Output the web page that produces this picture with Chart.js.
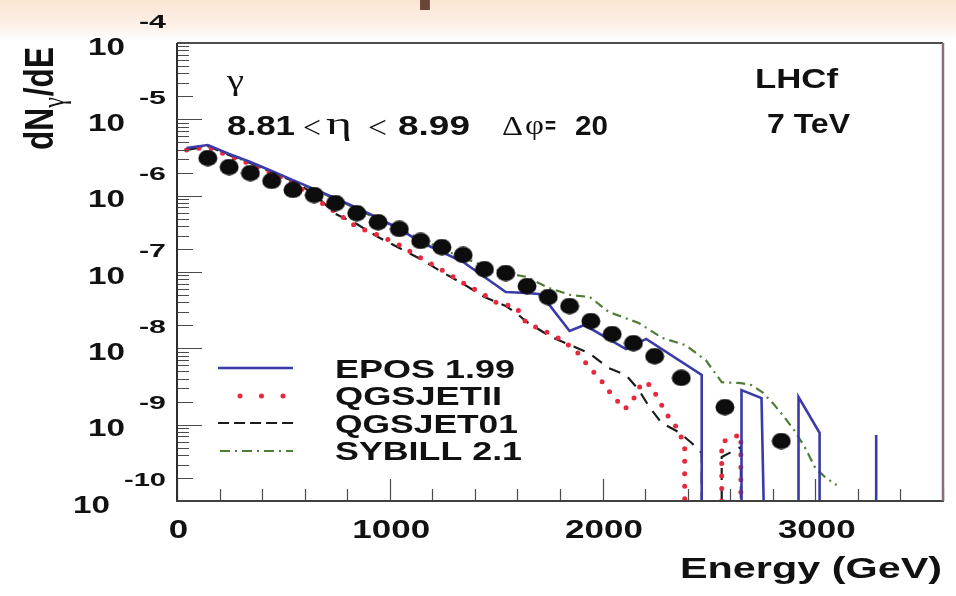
<!DOCTYPE html>
<html>
<head>
<meta charset="utf-8">
<title>LHCf photon spectrum</title>
<script src="https://cdn.jsdelivr.net/npm/chart.js@4.4.1/dist/chart.umd.min.js"></script>
<style>
  html, body { margin: 0; padding: 0; background: #fff; overflow: hidden; }
  canvas { display: block; }
</style>
</head>
<body>
<canvas id="c" width="956" height="596"></canvas>
<script>
// Axis ranges
const X_MIN = 0, X_MAX = 3600;
const Y_MIN = 1e-10, Y_MAX = 1e-4;
const xTickLabels = [0, 1000, 2000, 3000];
const yDecades = [-4, -5, -6, -7, -8, -9, -10];

// LHCf measured photon spectrum, 8.81 < eta < 8.99
const dataE   = [145, 245, 345, 445, 545, 645, 745, 845, 945, 1045, 1145, 1245, 1345, 1445, 1545, 1645, 1745, 1845, 1945, 2045, 2145, 2245, 2370, 2575, 2840];
const dataVal = [3.11e-6, 2.37e-6, 1.98e-6, 1.56e-6, 1.19e-6, 1.02e-6, 8.0e-7, 5.9e-7, 4.5e-7, 3.66e-7, 2.55e-7, 2.12e-7, 1.67e-7, 1.09e-7, 9.7e-8, 6.55e-8, 4.7e-8, 3.58e-8, 2.28e-8, 1.54e-8, 1.17e-8, 7.9e-9, 4.1e-9, 1.7e-9, 6.1e-10];

// Model predictions. 0 = empty bin (line runs down to the axis), null = pen lifted.
const eposE   = [45, 145, 245, 345, 445, 545, 645, 745, 845, 945, 1045, 1145, 1245, 1345, 1445, 1545, 1645, 1700, 1750, 1845, 1915, 2110, 2205, 2466, 2466, 2466, 2653, 2653, 2747, 2757, 2757, 2921, 2921, 3020, 3020, 3020, 3286, 3286, 3286];
const eposVal = [4.21e-6, 4.61e-6, 3.51e-6, 2.76e-6, 2.10e-6, 1.60e-6, 1.22e-6, 9.3e-7, 6.9e-7, 5.1e-7, 3.66e-7, 2.47e-7, 1.83e-7, 1.35e-7, 8.6e-8, 5.47e-8, 5.3e-8, 5.15e-8, 3.7e-8, 1.69e-8, 2.02e-8, 9.8e-9, 1.33e-8, 4.47e-9, 0, null, 0, 2.84e-9, 2.23e-9, 0, null, 0, 2.3e-9, 7.8e-10, 0, null, 0, 7.3e-10, 0];

const qgsIIE   = [45, 145, 245, 345, 445, 545, 645, 745, 845, 945, 1045, 1145, 1245, 1345, 1445, 1505, 1594, 1641, 1716, 1810, 1880, 1936, 1992, 2044, 2105, 2152, 2185, 2227, 2264, 2311, 2358, 2386, 2386, 2386, 2560, 2560, 2650, 2650];
const qgsIIVal = [3.96e-6, 4.34e-6, 3.31e-6, 2.60e-6, 1.98e-6, 1.47e-6, 9.3e-7, 6.1e-7, 3.9e-7, 3.05e-7, 2.26e-7, 1.53e-7, 1.06e-7, 7.2e-8, 5.0e-8, 3.92e-8, 3.48e-8, 2.15e-8, 1.74e-8, 1.29e-8, 8.95e-9, 5.7e-9, 3.85e-9, 2.45e-9, 1.6e-9, 2.3e-9, 3.6e-9, 3.3e-9, 2.1e-9, 1.26e-9, 8.5e-10, 5.1e-10, 0, null, 0, 5.9e-10, 7.5e-10, 0];

const qgs01E   = [45, 145, 245, 345, 445, 545, 645, 745, 845, 945, 1045, 1145, 1245, 1345, 1445, 1545, 1594, 1645, 1758, 1850, 1935, 2030, 2110, 2171, 2217, 2278, 2358, 2419, 2466, 2466, 2466, 2560, 2560, 2650, 2650];
const qgs01Val = [3.96e-6, 4.47e-6, 3.41e-6, 2.68e-6, 2.04e-6, 1.56e-6, 1.05e-6, 5.75e-7, 4.25e-7, 2.87e-7, 2.06e-7, 1.48e-7, 1.0e-7, 7.0e-8, 4.7e-8, 3.58e-8, 2.9e-8, 2.21e-8, 1.41e-8, 1.1e-8, 8.7e-9, 5.5e-9, 4.47e-9, 2.84e-9, 1.75e-9, 1.05e-9, 8.0e-10, 5.75e-10, 4.25e-10, 0, null, 0, 3.77e-10, 5.1e-10, 0];

const sibE   = [45, 145, 245, 345, 445, 545, 645, 745, 845, 945, 1045, 1145, 1245, 1345, 1445, 1545, 1645, 1745, 1850, 1940, 2030, 2170, 2280, 2390, 2485, 2560, 2650, 2700, 2750, 2800, 2850, 2900, 2950, 3000, 3050, 3100];
const sibVal = [4.09e-6, 4.47e-6, 3.41e-6, 2.68e-6, 2.04e-6, 1.56e-6, 1.19e-6, 9.0e-7, 6.7e-7, 4.9e-7, 3.66e-7, 2.7e-7, 2.0e-7, 1.53e-7, 1.2e-7, 9.7e-8, 8.6e-8, 6.2e-8, 5.0e-8, 4.7e-8, 2.99e-8, 2.15e-8, 1.37e-8, 1.1e-8, 7.0e-9, 3.6e-9, 3.5e-9, 3.3e-9, 2.68e-9, 1.92e-9, 1.3e-9, 8.5e-10, 5.1e-10, 2.7e-10, 2.0e-10, 1.62e-10];

// Build {x, y} points; empty bins sit on the bottom of the log axis
function points(E, V) {
  return E.map((e, i) => ({ x: e, y: V[i] === 0 ? Y_MIN : V[i] }));
}

// Slightly wide filled marker for the measured points
function markerImage() {
  const c = document.createElement('canvas');
  c.width = 20; c.height = 17;
  const g = c.getContext('2d');
  g.fillStyle = '#0d0d0d';
  g.beginPath();
  g.ellipse(10, 8.5, 9.5, 8.2, 0, 0, Math.PI * 2);
  g.fill();
  return c;
}

const SANS = '"Liberation Sans", Arial, Helvetica, sans-serif';
const SERIF = '"Liberation Serif", "DejaVu Serif", serif';

// Text stretched horizontally to a given width
function drawText(ctx, s, x, y, font, align, width, color) {
  ctx.save();
  ctx.font = font;
  const w = ctx.measureText(s).width;
  const sx = width ? width / w : 1;
  ctx.translate(x, y);
  ctx.scale(sx, 1);
  ctx.textAlign = align || 'left';
  ctx.textBaseline = 'alphabetic';
  ctx.fillStyle = color || '#111';
  ctx.fillText(s, 0, 0);
  ctx.restore();
}

const decor = {
  id: 'decor',
  beforeDraw(chart) {
    const ctx = chart.ctx;
    ctx.save();
    ctx.fillStyle = '#ffffff';
    ctx.fillRect(0, 0, chart.width, chart.height);
    const g = ctx.createLinearGradient(0, 0, 0, 40);
    g.addColorStop(0, '#fbe5d3');
    g.addColorStop(0.7, '#fdf2ea');
    g.addColorStop(1, '#ffffff');
    ctx.fillStyle = g;
    ctx.fillRect(0, 0, chart.width, 40);
    // descender of the slide heading, cut by the page edge
    ctx.fillStyle = '#6b4436';
    ctx.font = 'bold 72px ' + SANS;
    ctx.textBaseline = 'alphabetic';
    ctx.fillText('p', 415, -5);
    ctx.restore();
  },
  afterDraw(chart) {
    const ctx = chart.ctx;
    const a = chart.chartArea;
    const xs = chart.scales.x, ys = chart.scales.y;
    ctx.save();

    // ticks
    ctx.strokeStyle = '#4a4a4a';
    ctx.lineWidth = 1.2;
    ctx.beginPath();
    for (let v = X_MIN; v <= X_MAX; v += 200) {
      const px = Math.round(xs.getPixelForValue(v)) + 0.5;
      const len = v % 1000 === 0 ? 22 : 12;
      ctx.moveTo(px, a.bottom);
      ctx.lineTo(px, a.bottom - len);
    }
    for (let n = -10; n <= -4; n++) {
      const py = Math.round(ys.getPixelForValue(Math.pow(10, n))) + 0.5;
      ctx.moveTo(a.left, py);
      ctx.lineTo(a.left + 25, py);
      if (n < -4) {
        for (let k = 2; k <= 9; k++) {
          const pm = Math.round(ys.getPixelForValue(k * Math.pow(10, n))) + 0.5;
          ctx.moveTo(a.left, pm);
          ctx.lineTo(a.left + (k === 2 ? 16 : 12), pm);
        }
      }
    }
    ctx.stroke();

    // frame
    ctx.lineWidth = 2;
    ctx.strokeStyle = '#4d4d4d';
    ctx.beginPath(); ctx.moveTo(a.left, a.top); ctx.lineTo(a.right, a.top); ctx.stroke();
    ctx.strokeStyle = '#2e2e2e';
    ctx.beginPath(); ctx.moveTo(a.left, a.top); ctx.lineTo(a.left, a.bottom); ctx.stroke();
    ctx.strokeStyle = '#404040';
    ctx.beginPath(); ctx.moveTo(a.left - 1, a.bottom); ctx.lineTo(a.right + 1, a.bottom); ctx.stroke();
    ctx.strokeStyle = '#8c6c7e';
    ctx.lineWidth = 2.5;
    ctx.beginPath(); ctx.moveTo(a.right, a.top); ctx.lineTo(a.right, a.bottom); ctx.stroke();

    // y tick labels: 10 with exponent
    yDecades.forEach(n => {
      const py = ys.getPixelForValue(Math.pow(10, n));
      const exp = '-' + Math.abs(n);
      const expW = Math.abs(n) >= 10 ? 42 : 27;
      drawText(ctx, exp, 166, py - 15.5, 'bold 18px ' + SANS, 'right', expW);
      drawText(ctx, '10', 166 - expW - 14, py + 11.5, 'bold 24px ' + SANS, 'right', 37);
    });

    // x tick labels
    xTickLabels.forEach(v => {
      const px = xs.getPixelForValue(v);
      const s = String(v);
      ctx.font = 'bold 25px ' + SANS;
      const w = ctx.measureText(s).width * 1.4;
      drawText(ctx, s, px + 1.5, 538, 'bold 25px ' + SANS, 'center', w);
    });

    // axis titles
    drawText(ctx, 'Energy (GeV)', 942, 578, 'bold 29px ' + SANS, 'right', 262);

    ctx.save();
    ctx.translate(53, 150);
    ctx.rotate(-Math.PI / 2);
    const big = 'bold 29px ' + SANS, sub = '22px ' + SERIF;
    ctx.font = big; const w1 = ctx.measureText('dN').width;
    ctx.font = sub; const w2 = ctx.measureText('γ').width;
    ctx.font = big; const w3 = ctx.measureText('/dE').width;
    const sx = 103 / (w1 + w2 + 1 + w3);
    ctx.scale(sx, 1.42);
    ctx.fillStyle = '#111';
    ctx.textBaseline = 'alphabetic';
    ctx.font = big; ctx.fillText('dN', 0, 0);
    ctx.font = sub; ctx.fillText('γ', w1, 8);
    ctx.font = big; ctx.fillText('/dE', w1 + w2 + 1, 0);
    ctx.restore();

    // labels inside the frame
    drawText(ctx, 'γ', 227, 90, '30px ' + SERIF, 'left', 17);
    drawText(ctx, '8.81', 227, 135, 'bold 27px ' + SANS, 'left', 68);
    drawText(ctx, '<', 303, 138, '32px ' + SERIF, 'left', 18);
    drawText(ctx, 'η', 326, 134, '32px ' + SERIF, 'left', 26);
    drawText(ctx, '<', 368, 138, '32px ' + SERIF, 'left', 19);
    drawText(ctx, '8.99', 398, 135, 'bold 27px ' + SANS, 'left', 72);
    drawText(ctx, 'Δ', 502, 135, '28px ' + SERIF, 'left', 21);
    drawText(ctx, 'φ', 525, 134, '28px ' + SERIF, 'left', 19);
    drawText(ctx, '=', 545, 133, 'bold 22px ' + SANS, 'left', 11);
    drawText(ctx, '20', 575, 135, 'bold 27px ' + SANS, 'left', 33);
    drawText(ctx, 'LHCf', 755, 88, 'bold 27px ' + SANS, 'left', 83);
    drawText(ctx, '7 TeV', 767, 133, 'bold 27px ' + SANS, 'left', 83);

    // legend
    const rows = [
      { ds: 1, y: 368, x0: 218, x1: 293, dash: [], w: 2.6, tb: 378, tw: 180 },
      { ds: 2, y: 396, x0: 240, x1: 284, dash: [0, 21.5], w: 5, tb: 405, tw: 167 },
      { ds: 3, y: 423, x0: 218, x1: 293, dash: [11, 5], w: 2.2, tb: 433, tw: 183 },
      { ds: 4, y: 451, x0: 220, x1: 293, dash: [10, 5, 2, 5], w: 2.2, tb: 460, tw: 187 }
    ];
    rows.forEach(r => {
      const d = chart.data.datasets[r.ds];
      ctx.save();
      ctx.strokeStyle = d.borderColor;
      ctx.lineWidth = r.w;
      ctx.lineCap = d.borderCapStyle || 'butt';
      ctx.setLineDash(r.dash);
      ctx.beginPath();
      ctx.moveTo(r.x0, r.y);
      ctx.lineTo(r.x1, r.y);
      ctx.stroke();
      ctx.restore();
      drawText(ctx, d.label, 335, r.tb, 'bold 25px ' + SANS, 'left', r.tw);
    });

    ctx.restore();
  }
};

new Chart(document.getElementById('c'), {
  type: 'line',
  data: {
    datasets: [
      {
        label: 'LHCf data',
        data: points(dataE, dataVal),
        showLine: false,
        pointStyle: markerImage(),
        pointRadius: 9,
        order: 0
      },
      {
        label: 'EPOS 1.99',
        data: points(eposE, eposVal),
        borderColor: '#3a3aa8',
        borderWidth: 2.6,
        pointRadius: 0,
        order: 1
      },
      {
        label: 'QGSJETII',
        data: points(qgsIIE, qgsIIVal),
        borderColor: '#e8283c',
        borderWidth: 5,
        borderDash: [0, 12.5],
        borderCapStyle: 'round',
        pointRadius: 0,
        order: 2
      },
      {
        label: 'QGSJET01',
        data: points(qgs01E, qgs01Val),
        borderColor: '#1c1c1c',
        borderWidth: 2.2,
        borderDash: [12, 9],
        pointRadius: 0,
        order: 3
      },
      {
        label: 'SYBILL 2.1',
        data: points(sibE, sibVal),
        borderColor: '#4e7d35',
        borderWidth: 2.2,
        borderDash: [9, 5, 2, 5],
        pointRadius: 0,
        order: 4
      }
    ]
  },
  options: {
    responsive: false,
    animation: false,
    devicePixelRatio: 1,
    spanGaps: false,
    layout: { padding: { left: 177, top: 43, right: 13, bottom: 95 } },
    elements: { line: { tension: 0, fill: false } },
    scales: {
      x: { type: 'linear', min: X_MIN, max: X_MAX, display: false },
      y: { type: 'logarithmic', min: Y_MIN, max: Y_MAX, display: false }
    },
    plugins: {
      legend: { display: false },
      tooltip: { enabled: false }
    }
  },
  plugins: [decor]
});
</script>
</body>
</html>
